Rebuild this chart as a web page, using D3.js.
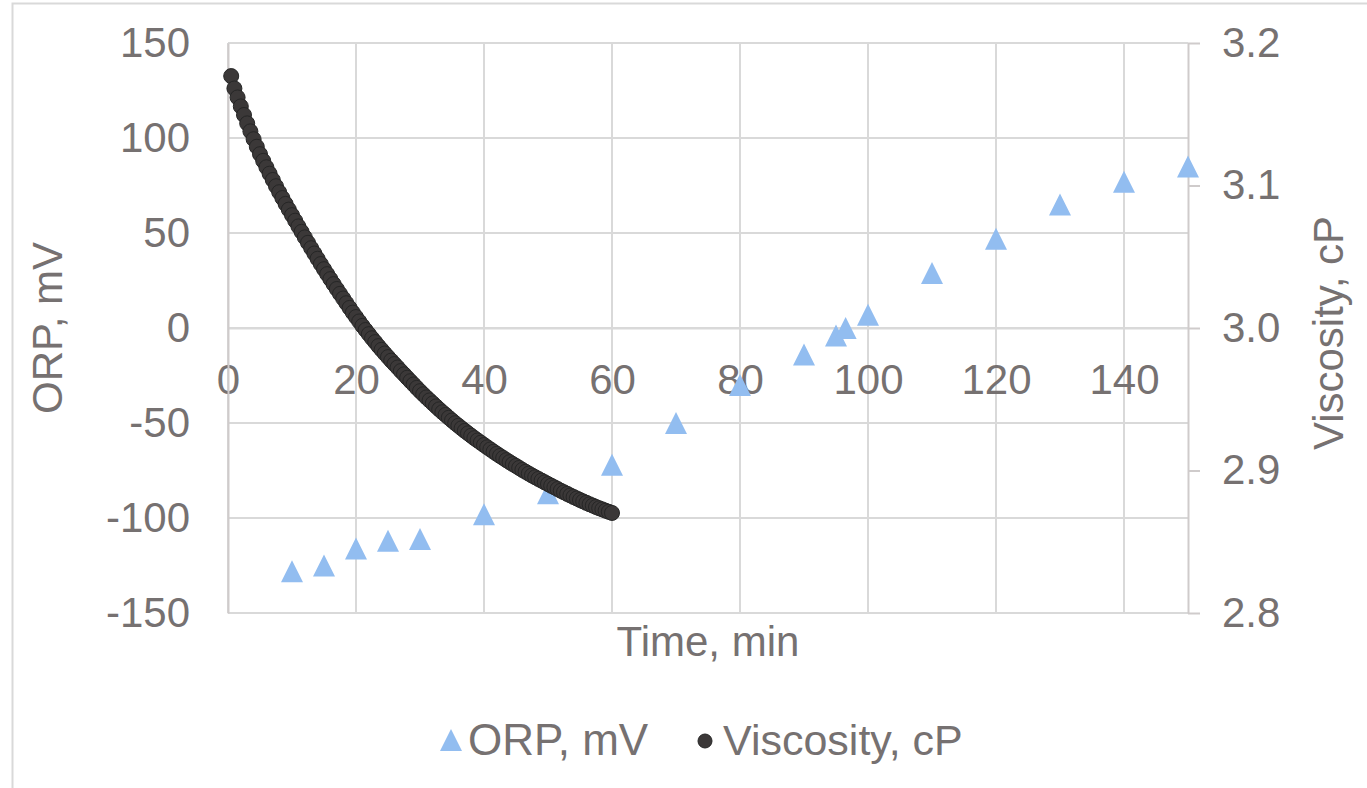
<!DOCTYPE html>
<html>
<head>
<meta charset="utf-8">
<script src="https://cdn.jsdelivr.net/npm/d3@7"></script>
<style>
  body { margin: 0; background: #fff; }
  svg text { font-family: "Liberation Sans", Arial, sans-serif; fill: #767171; }
</style>
</head>
<body>
<div id="chart"></div>
<script>
// ORP readings (mV) vs time (min)
const orpTime = [10, 15, 20, 25, 30, 40, 50, 60, 70, 80, 90, 95, 96.5, 100, 110, 120, 130, 140, 150];
const orpValue = [-128, -125, -116, -112, -111, -98, -87, -72, -50, -30, -14, -4, 0, 7, 29, 47, 65, 77, 85];

// viscosity readings (cP), one every 30 s
const viscTime = [
  0.5, 1, 1.5, 2, 2.5, 3, 3.5, 4, 4.5, 5,
  5.5, 6, 6.5, 7, 7.5, 8, 8.5, 9, 9.5, 10,
  10.5, 11, 11.5, 12, 12.5, 13, 13.5, 14, 14.5, 15,
  15.5, 16, 16.5, 17, 17.5, 18, 18.5, 19, 19.5, 20,
  20.5, 21, 21.5, 22, 22.5, 23, 23.5, 24, 24.5, 25,
  25.5, 26, 26.5, 27, 27.5, 28, 28.5, 29, 29.5, 30,
  30.5, 31, 31.5, 32, 32.5, 33, 33.5, 34, 34.5, 35,
  35.5, 36, 36.5, 37, 37.5, 38, 38.5, 39, 39.5, 40,
  40.5, 41, 41.5, 42, 42.5, 43, 43.5, 44, 44.5, 45,
  45.5, 46, 46.5, 47, 47.5, 48, 48.5, 49, 49.5, 50,
  50.5, 51, 51.5, 52, 52.5, 53, 53.5, 54, 54.5, 55,
  55.5, 56, 56.5, 57, 57.5, 58, 58.5, 59, 59.5, 60
];
const viscValue = [
  3.1768, 3.1681, 3.1618, 3.1555, 3.1495, 3.1436, 3.1380, 3.1325, 3.1272, 3.1220,
  3.1173, 3.1128, 3.1083, 3.1039, 3.0995, 3.0953, 3.0912, 3.0871, 3.0831, 3.0792,
  3.0753, 3.0713, 3.0675, 3.0636, 3.0598, 3.0560, 3.0523, 3.0486, 3.0449, 3.0413,
  3.0378, 3.0343, 3.0308, 3.0274, 3.0240, 3.0207, 3.0174, 3.0141, 3.0108, 3.0077,
  3.0046, 3.0015, 2.9986, 2.9957, 2.9928, 2.9901, 2.9873, 2.9847, 2.9821, 2.9796,
  2.9771, 2.9747, 2.9723, 2.9698, 2.9675, 2.9651, 2.9627, 2.9604, 2.9580, 2.9557,
  2.9535, 2.9513, 2.9492, 2.9471, 2.9450, 2.9429, 2.9409, 2.9390, 2.9370, 2.9351,
  2.9332, 2.9314, 2.9296, 2.9278, 2.9261, 2.9244, 2.9227, 2.9211, 2.9195, 2.9179,
  2.9163, 2.9148, 2.9132, 2.9117, 2.9102, 2.9088, 2.9073, 2.9059, 2.9045, 2.9032,
  2.9018, 2.9004, 2.8991, 2.8978, 2.8965, 2.8953, 2.8941, 2.8929, 2.8917, 2.8905,
  2.8893, 2.8882, 2.8870, 2.8858, 2.8847, 2.8836, 2.8825, 2.8814, 2.8804, 2.8793,
  2.8783, 2.8773, 2.8763, 2.8754, 2.8744, 2.8735, 2.8727, 2.8718, 2.8710, 2.8702
];

// tick labels
const xTicks = [0, 20, 40, 60, 80, 100, 120, 140];
const leftTicks = [-150, -100, -50, 0, 50, 100, 150];
const rightTicks = [2.8, 2.9, 3.0, 3.1, 3.2];

const width = 1367;
const height = 788;
const plot = { left: 228, right: 1188, top: 43, bottom: 613 };

const svg = d3.select("#chart")
  .append("svg")
  .attr("width", width)
  .attr("height", height);

svg.append("rect")
  .attr("width", width).attr("height", height)
  .attr("fill", "#fff");

// outer chart border (only top and left edges fall inside the window)
svg.append("rect")
  .attr("x", 12.5).attr("y", 3.5)
  .attr("width", 1420).attr("height", 900)
  .attr("fill", "none")
  .attr("stroke", "#d9d9d9")
  .attr("stroke-width", 2);

const x = d3.scaleLinear().domain([0, 150]).range([plot.left, plot.right]);
const yL = d3.scaleLinear().domain([-150, 150]).range([plot.bottom, plot.top]);
const yR = d3.scaleLinear().domain([2.8, 3.2]).range([plot.bottom, plot.top]);

// gridlines
svg.append("g")
  .selectAll("line")
  .data(leftTicks)
  .enter().append("line")
  .attr("x1", plot.left).attr("x2", plot.right)
  .attr("y1", d => yL(d)).attr("y2", d => yL(d))
  .attr("stroke", "#d9d9d9")
  .attr("stroke-width", 2);

svg.append("g")
  .selectAll("line")
  .data(xTicks)
  .enter().append("line")
  .attr("x1", d => x(d)).attr("x2", d => x(d))
  .attr("y1", plot.top).attr("y2", plot.bottom)
  .attr("stroke", "#d9d9d9")
  .attr("stroke-width", 2);

// plain hyphen minus, like the original
const plain = d => String(d);

// x axis crosses at ORP = 0
const xAxis = svg.append("g")
  .attr("transform", `translate(0, ${yL(0)})`)
  .call(d3.axisBottom(x).tickValues(xTicks).tickFormat(plain)
    .tickSize(0).tickSizeOuter(0).tickPadding(36));
xAxis.select(".domain").attr("stroke", "#d9d9d9").attr("stroke-width", 2);
xAxis.selectAll("text").attr("font-size", 42);

const leftAxis = svg.append("g")
  .attr("transform", `translate(${plot.left}, 0)`)
  .call(d3.axisLeft(yL).tickValues(leftTicks).tickFormat(plain)
    .tickSize(0).tickSizeOuter(0).tickPadding(38));
leftAxis.select(".domain").attr("stroke", "#cfcbcb").attr("stroke-width", 2);
leftAxis.selectAll("text").attr("font-size", 42);

const rightAxis = svg.append("g")
  .attr("transform", `translate(${plot.right}, 0)`)
  .call(d3.axisRight(yR).tickValues(rightTicks).tickFormat(d3.format(".1f"))
    .tickSize(12).tickSizeOuter(0).tickPadding(22));
rightAxis.select(".domain").attr("stroke", "#cfcbcb").attr("stroke-width", 2);
rightAxis.selectAll("line").attr("stroke", "#cfcbcb").attr("stroke-width", 2);
rightAxis.selectAll("text").attr("font-size", 42);

// axis titles
svg.append("text")
  .attr("x", (plot.left + plot.right) / 2).attr("y", 656)
  .attr("text-anchor", "middle")
  .attr("font-size", 42)
  .text("Time, min");

svg.append("text")
  .attr("transform", "translate(62, 328) rotate(-90)")
  .attr("text-anchor", "middle")
  .attr("font-size", 42)
  .text("ORP, mV");

svg.append("text")
  .attr("transform", "translate(1343, 333) rotate(-90)")
  .attr("text-anchor", "middle")
  .attr("font-size", 42)
  .text("Viscosity, cP");

// excel style triangle: as wide as it is tall
const excelTriangle = {
  draw(ctx, size) {
    const h = Math.sqrt(size) / 2;
    ctx.moveTo(0, -h);
    ctx.lineTo(h, h);
    ctx.lineTo(-h, h);
    ctx.closePath();
  }
};
const tri = d3.symbol().type(excelTriangle).size(22 * 22);

const orpData = orpTime.map((t, i) => ({ t: t, v: orpValue[i] }));
const viscData = viscTime.map((t, i) => ({ t: t, v: viscValue[i] }));

svg.append("g")
  .selectAll("path")
  .data(orpData)
  .enter().append("path")
  .attr("d", tri)
  .attr("transform", d => `translate(${x(d.t)}, ${yL(d.v)})`)
  .attr("fill", "#92bdf0");

svg.append("g")
  .selectAll("circle")
  .data(viscData)
  .enter().append("circle")
  .attr("cx", d => x(d.t))
  .attr("cy", d => yR(d.v))
  .attr("r", 7.5)
  .attr("fill", "#3b3838")
  .attr("stroke", "#262626")
  .attr("stroke-width", 1);

// legend
const legend = svg.append("g");
legend.append("path")
  .attr("d", tri)
  .attr("transform", "translate(451, 740)")
  .attr("fill", "#92bdf0");
legend.append("text")
  .attr("x", 468).attr("y", 755)
  .attr("font-size", 44)
  .text("ORP, mV");
legend.append("circle")
  .attr("cx", 705).attr("cy", 741)
  .attr("r", 7)
  .attr("fill", "#3b3838")
  .attr("stroke", "#262626");
legend.append("text")
  .attr("x", 723).attr("y", 755)
  .attr("font-size", 43)
  .text("Viscosity, cP");
</script>
</body>
</html>
